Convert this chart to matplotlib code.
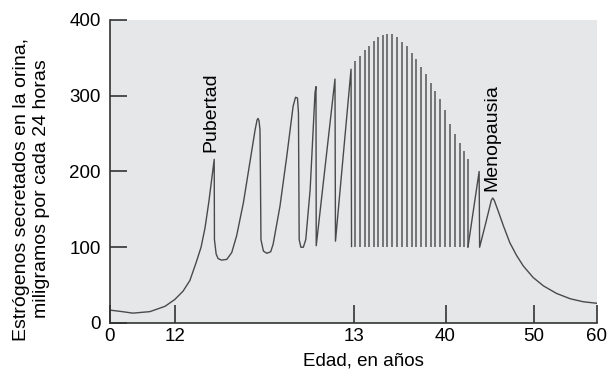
import numpy as np
import matplotlib.pyplot as plt

plt.rcParams['font.family'] = ['Liberation Sans', 'DejaVu Sans']

# horizontal position along the (schematic, non-linear) age axis, 0..100
tick_pos = [0, 13.3, 50.2, 68.9, 87.0, 100]
tick_labels = ['0', '12', '13', '40', '50', '60']

# childhood + first irregular cycles up to the last sawtooth before regular cycles
curve_x = [0, 2.5, 4.7, 8.2, 11.3, 13.3, 15.0, 16.4, 17.7, 18.7, 19.5, 20.3, 21.4,
           21.45, 21.8, 22.2, 22.9, 24.0, 25.0, 26.0, 27.4, 28.7, 29.8, 30.2, 30.4,
           30.6, 30.8, 30.9, 31.0, 31.5, 32.2, 33.0, 33.5, 34.9, 36.3, 37.6, 38.1,
           38.5, 38.7, 38.85, 39.2, 39.7, 40.2, 41.1, 42.1, 42.3,
           42.35, 46.2, 46.3, 49.5, 49.6]
curve_y = [17, 15, 13, 15, 22, 31, 42, 56, 80, 100, 125, 160, 216,
           110, 91, 85, 83, 84, 93, 115, 159, 211, 255, 268, 270,
           267, 255, 189, 110, 95, 92, 94, 104, 154, 220, 286, 298,
           297, 277, 110, 100, 100, 110, 176, 304, 312,
           102, 322, 108, 335, 101]

# regular monthly cycles (vertical strokes from 100)
cycle_x = [50.4, 51.3, 52.3, 53.2, 54.2, 55.1, 56.0, 56.9, 57.9, 59.0, 60.0, 61.0,
           62.0, 62.9, 63.9, 64.8, 65.9, 66.8, 67.8, 68.8, 69.8, 70.8, 71.8, 72.6, 73.5]
cycle_top = [346, 353, 360, 366, 372, 377, 380, 382, 382, 378, 371, 366,
             357, 349, 338, 329, 317, 306, 296, 281, 263, 250, 237, 227, 216]
cycle_base = 100

# menopause and decline
meno_x = [73.5, 75.8, 75.9, 77.2, 78.0, 78.3, 78.6, 78.9, 79.3, 79.7, 80.8, 82.1,
          83.5, 84.9, 86.9, 89.0, 91.7, 94.5, 97.2, 100]
meno_y = [100, 200, 100, 133, 154, 162, 165, 162, 155, 148, 128, 106,
          89, 75, 60, 49, 39, 32, 28, 26]

line_col = '#4a4a4a'

fig = plt.figure(figsize=(6.07, 3.75), dpi=100)
ax = fig.add_axes([0.1812, 0.1387, 0.8023, 0.808])
ax.set_facecolor('#e6e7e8')

ax.plot(curve_x, curve_y, color=line_col, lw=1.0)
ax.vlines(cycle_x, cycle_base, cycle_top, color='#555555', lw=1.1)
ax.plot(meno_x, meno_y, color=line_col, lw=1.0)

ax.text(20.7, 226, 'Pubertad', rotation=90, ha='center', va='bottom', fontsize=14)
ax.text(78.5, 174, 'Menopausia', rotation=90, ha='center', va='bottom', fontsize=14)

ax.set_xlim(0, 100)
ax.set_ylim(0, 400)
ax.set_xticks(tick_pos)
ax.set_xticklabels(tick_labels)
ax.set_yticks([0, 100, 200, 300, 400])

for s in ['top', 'right']:
    ax.spines[s].set_visible(False)
for s in ['left', 'bottom']:
    ax.spines[s].set_color('#333333')
    ax.spines[s].set_linewidth(1.2)

ax.tick_params(axis='y', direction='in', length=12, width=1.2, color='#333333',
               labelsize=13.5, pad=6.5)
ax.tick_params(axis='x', direction='in', length=13, width=1.2, color='#333333',
               labelsize=13.5, pad=3.5)

ax.set_xlabel('Edad, en años', fontsize=13.5)
ax.xaxis.set_label_coords(0.521, -0.096)
ax.set_ylabel('Estrógenos secretados en la orina,\nmiligramos por cada 24 horas',
              fontsize=14, linespacing=1.2)
ax.yaxis.set_label_coords(-0.123, 0.442)

fig.savefig('out.png', dpi=100)
